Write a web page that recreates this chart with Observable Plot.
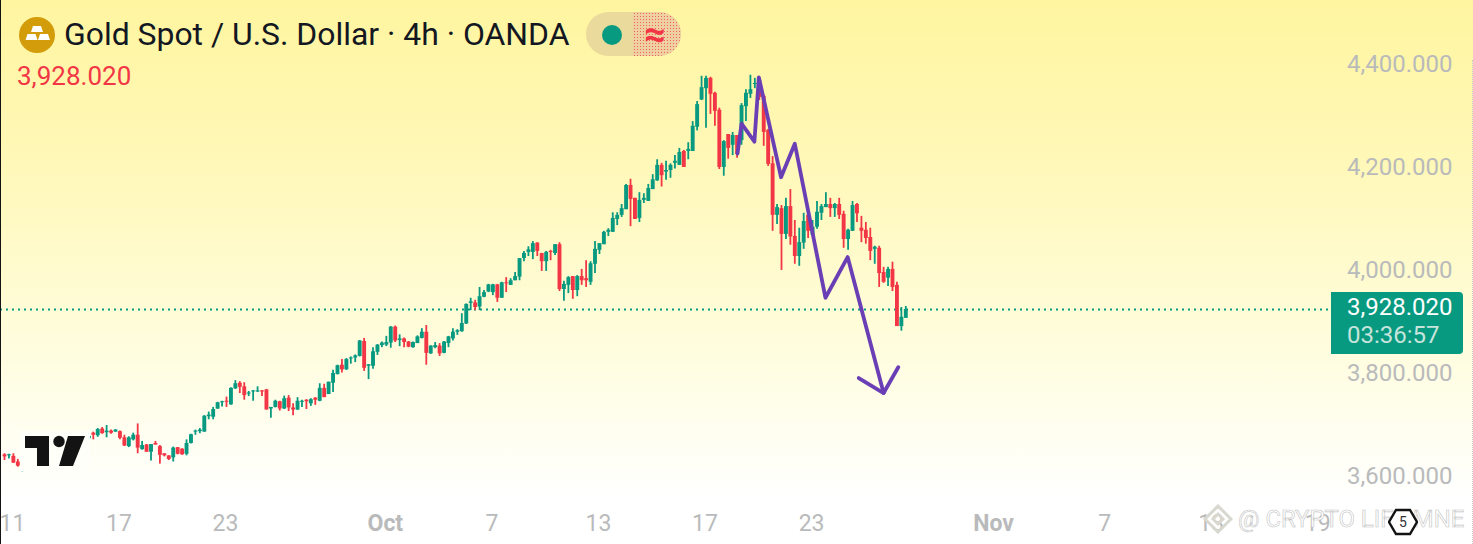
<!DOCTYPE html>
<html><head><meta charset="utf-8">
<script src="https://cdn.jsdelivr.net/npm/d3@7"></script>
<script src="https://cdn.jsdelivr.net/npm/@observablehq/plot@0.6"></script>
<style>
html,body{margin:0;padding:0;background:#fff;}
#wrap{position:relative;width:1473px;height:544px;overflow:hidden;font-family:Roboto,sans-serif;
 background:linear-gradient(180deg,#fff5a0 0%,#fff8b8 30%,#fffde0 66%,#ffffff 92%);}
#wrap svg.plot{position:absolute;left:0;top:0;background:transparent;}
.ab{position:absolute;white-space:nowrap;}
#edge{left:0;top:0;width:1.2px;height:544px;background:#131313;}
#edgeR{right:0;top:60px;height:484px;border-right:1px dotted #c8c8c8;}
#icon{left:19px;top:17px;width:36px;height:36px;}
#title{left:64px;top:16px;font-size:31.9px;line-height:36px;color:#131722;}
#pill{left:586px;top:12px;width:95px;height:44px;border-radius:22px;background:#eadb9c;}
#pill .r{position:absolute;left:47px;top:0;width:48px;height:44px;border-radius:0 22px 22px 0;background-color:#efd0a0;
 background-image:radial-gradient(#f2605e .8px,transparent 1px);background-size:3px 3px;}
#pill .dot{position:absolute;left:16px;top:12.5px;width:20px;height:20px;border-radius:50%;background:#089981;}
#pill .ap{position:absolute;left:54px;top:3px;width:30px;text-align:center;font-size:38px;line-height:38px;font-weight:700;color:#f23645;}
#sub{left:17px;top:60px;font-size:26px;line-height:32px;color:#f23645;}
#box{left:1331px;top:292px;width:132px;height:62px;background:#089981;border-radius:0 4px 4px 0;}
#box .a{position:absolute;left:16px;top:0;font-size:24px;line-height:30px;color:#fff;}
#box .b{position:absolute;left:16px;top:28px;font-size:24px;line-height:30px;color:#c6e4db;}
#logo{left:20px;top:431px;width:70px;height:40px;}
#diamond{left:1203px;top:504px;width:30px;height:30px;}
#wm{left:1238px;top:504px;font-size:23.9px;line-height:30px;color:#fff;-webkit-text-stroke:.6px #c4c4c4;}
#hex{left:1388px;top:507px;width:30px;height:30px;}
</style></head><body>
<div id="wrap"></div>
<script>
const up = "#089981", down = "#f23645";
const hidden = Array(12).fill(null); // bars 7..18 sit behind the logo

const open = [3646,3644,3643,3632,3629,3631,3637,...hidden,3677,3688,3683,3696,3689,3692,3690,3691,3679,3662,3675,3684,3656,3665,3651,3668,3662,3648,3644,3640,3660,3657,3647,3668,3690,3691,3690,3720,3719,3735,3747,3750,3743,
3774,3785,3778,3764,3768,3768,3770,3772,3735,3738,3749,3735,3756,3737,3733,3748,3752,3745,3756,3750,3775,3763,3785,3802,3820,3811,3832,3834,3837,3866,3818,3818,3845,3858,3859,3863,3894,3868,3871,3865,3854,3862,3872,3884,3842,3854,3857,3843,3862,3871,3884,3885,3900,
3940,3941,3933,3952,3962,3961,3976,3950,3980,3975,3984,3991,4027,4039,4039,4057,4037,4021,4041,4037,4054,3967,3975,3992,3965,3992,3988,3981,4016,4043,4054,4078,4078,4103,4111,4122,4169,4144,4105,4140,4138,4161,
4178,4208,4195,4198,4212,4208,4235,4235,4235,4282,4335,4357,4377,4348,4315,4204,4268,4247,4266,4256,4322,4346,4365,4373,4342,4276,4211,4111,4124,4074,4128,4070,4031,4057,4111,4072,4088,4115,4126,4132,4124,4132,4113,4064,4080,4132,4086,4082,4068,4045,4047,4000,3989,4006,3975,3895,3911];

const close = [3642,3646,3630,3624,3631,3634,3634,...hidden,3682,3684,3695,3687,3692,3688,3694,3678,3663,3679,3684,3659,3664,3651,3666,3665,3645,3644,3637,3659,3647,3646,3668,3685,3692,3694,3721,3723,3734,3747,3749,3748,3775,
3784,3777,3761,3766,3770,3770,3768,3733,3738,3750,3735,3755,3737,3733,3750,3750,3749,3753,3752,3775,3757,3787,3804,3819,3811,3831,3834,3838,3867,3814,3821,3846,3859,3863,3864,3894,3867,3871,3864,3855,3864,3875,3884,3843,3857,3858,3842,3865,3875,3884,3887,3901,3938,
3943,3932,3953,3961,3976,3976,3950,3980,3978,3984,3992,4027,4037,4044,4056,4041,4021,4039,4039,4054,3967,3977,3990,3965,3992,3984,3984,4017,4045,4056,4078,4082,4105,4111,4124,4169,4142,4103,4140,4144,4163,4180,
4208,4188,4198,4208,4216,4233,4204,4239,4284,4326,4359,4377,4346,4313,4204,4254,4241,4266,4229,4324,4348,4355,4367,4340,4272,4210,4111,4126,4074,4128,4069,4031,4058,4099,4080,4088,4117,4128,4132,4124,4132,4111,4064,4082,4130,4114,4080,4066,4041,4049,3998,3981,4006,3971,3895,3913,3928];

const high = [3648,3647,3648,3637,3643,3640,3637,...hidden,3683,3690,3697,3699,3703,3694,3695,3692,3684,3681,3688,3706,3672,3666,3666,3672,3664,3648,3644,3661,3660,3658,3675,3686,3694,3697,3722,3729,3738,3748,3750,3758,3776,
3790,3788,3786,3769,3771,3778,3771,3773,3738,3752,3750,3760,3761,3745,3757,3752,3753,3755,3757,3784,3783,3787,3810,3820,3831,3833,3836,3840,3868,3872,3821,3854,3860,3865,3876,3895,3896,3879,3873,3866,3865,3877,3891,3897,3858,3864,3862,3866,3876,3891,3889,3920,3939,
3950,3946,3971,3965,3977,3977,3977,3981,3990,3988,4000,4027,4041,4050,4060,4058,4037,4041,4043,4054,4058,3983,3992,3992,3994,4006,4023,4021,4060,4056,4080,4085,4116,4116,4132,4171,4181,4144,4155,4153,4171,4190,
4219,4212,4216,4211,4227,4241,4237,4252,4293,4332,4381,4381,4379,4350,4319,4256,4268,4272,4266,4328,4355,4383,4377,4375,4344,4278,4225,4132,4130,4144,4161,4101,4086,4115,4113,4101,4138,4132,4155,4144,4134,4144,4119,4084,4138,4134,4109,4097,4086,4051,4051,4010,4010,4020,3981,3932,3934];

const low = [3635,3638,3629,3622,3613,3618,3629,...hidden,3677,3675,3680,3686,3679,3686,3690,3675,3662,3660,3673,3648,3655,3651,3634,3665,3628,3642,3635,3632,3646,3645,3644,3667,3684,3687,3690,3714,3714,3734,3739,3738,3742,
3773,3765,3752,3759,3750,3767,3759,3733,3717,3737,3731,3734,3730,3722,3732,3738,3734,3740,3742,3749,3757,3763,3767,3801,3805,3810,3822,3825,3836,3808,3792,3812,3839,3854,3856,3853,3864,3856,3854,3854,3853,3862,3871,3820,3841,3852,3837,3842,3854,3867,3878,3884,3899,
3926,3926,3926,3951,3961,3955,3942,3950,3961,3975,3984,3984,4021,4031,4025,4031,4002,4002,4023,4033,3963,3944,3959,3948,3953,3975,3971,3975,3998,4035,4054,4070,4078,4091,4107,4122,4089,4103,4097,4134,4138,4161,
4177,4166,4179,4183,4201,4208,4204,4219,4235,4275,4334,4280,4307,4284,4200,4187,4220,4227,4222,4247,4293,4338,4357,4334,4245,4206,4080,4093,4004,4064,4053,4016,4012,4045,4066,4072,4084,4101,4126,4107,4107,4103,4047,4043,4080,4097,4058,4055,4023,4016,3971,3979,3973,3963,3895,3886,3911];

const lastPrice = 3928.02;
const priceTicks = [3600,3800,4000,4200,4400];
const dayTicks = [2,26,50,110,134,158,182,248,272,296];
const dayLabels = ["11","17","23","7","13","17","23","7","13","19"];
const monthTicks = [86,223];
const monthLabels = ["Oct","Nov"];
const drawX = [165.1,166,168.9,169.9,174.9,178,184.9,189.9,198,201.3];
const drawY = [4231,4289,4254,4379,4185,4250,3951,4030,3766,3816];
const headX = [192.4,198];
const headY = [3795,3766];

const bars = open.map((o,i)=>({i,o,c:close[i],h:high[i],l:low[i]})).filter(d=>d.o!=null);
const rising = bars.filter(d=>d.c>=d.o), falling = bars.filter(d=>d.c<d.o);
const grey = "#b9babb";
const fmt = d3.format(",.3f");
const candle = (data,color)=>[
  Plot.ruleX(data,{x:"i",y1:"l",y2:"h",stroke:color,strokeWidth:1.8}),
  Plot.ruleX(data,{x:"i",y1:"o",y2:"c",stroke:color,strokeWidth:3.9})
];
const lookup = (ts,ls)=>i=>ls[ts.indexOf(i)];

const chart = Plot.plot({
  width:1473,height:544,marginLeft:0,marginTop:0,marginRight:21,marginBottom:34,
  style:{background:"transparent",fontFamily:"Roboto,sans-serif"},
  x:{type:"linear",domain:[-0.9,330.86],range:[0,1473]},
  y:{type:"linear",domain:[3471.84,4528.16],range:[544,0]},
  marks:[
    Plot.ruleY([lastPrice],{x1:-0.9,x2:298.9,stroke:up,strokeWidth:2,strokeDasharray:"2 4"}),
    ...candle(rising,up),...candle(falling,down),
    Plot.line(drawX.map((x,k)=>({x,y:drawY[k]})),{x:"x",y:"y",stroke:"#6a3fb5",strokeWidth:3.8,strokeLinejoin:"round",strokeLinecap:"round"}),
    Plot.line(headX.map((x,k)=>({x,y:headY[k]})),{x:"x",y:"y",stroke:"#6a3fb5",strokeWidth:3.8,strokeLinecap:"round"}),
    Plot.axisY(priceTicks,{anchor:"right",tickSize:0,tickPadding:0,textAnchor:"end",dy:-2,tickFormat:fmt,fontSize:24,fill:grey,label:null}),
    Plot.axisX(dayTicks,{anchor:"bottom",tickSize:0,tickPadding:4,dx:-1,tickFormat:lookup(dayTicks,dayLabels),fontSize:23,fill:grey,label:null}),
    Plot.axisX(monthTicks,{anchor:"bottom",tickSize:0,tickPadding:4,dx:-1,tickFormat:lookup(monthTicks,monthLabels),fontSize:23,fontWeight:700,fill:grey,label:null})
  ]
});
const wrap = document.getElementById("wrap");
wrap.appendChild(chart);
wrap.insertAdjacentHTML("beforeend",`
<div class="ab" id="edge"></div><div class="ab" id="edgeR"></div>
<svg class="ab" id="icon" viewBox="0 0 36 36"><circle cx="18" cy="18" r="18" fill="#d39c0a"/>
 <path d="M14 9h8l2 6H12zM6.500 23l2-6h8l2 6zM19 23l2-6h8l2 6z" fill="#fff"/></svg>
<div class="ab" id="title">Gold Spot / U.S. Dollar · 4h · OANDA</div>
<div class="ab" id="pill"><div class="r"></div><div class="dot"></div><div class="ap">≈</div></div>
<div class="ab" id="sub">3,928.020</div>
<div class="ab" id="box"><div class="a">3,928.020</div><div class="b">03:36:57</div></div>
<svg class="ab" id="logo" viewBox="0 0 70 40"><rect width="70" height="40" fill="#fffffa"/>
 <path d="M5 5h24v30H17V17H5z" fill="#131313"/><circle cx="39" cy="10.500" r="5.700" fill="#131313"/><path d="M48 5h17L53 35H39z" fill="#131313"/></svg>
<svg class="ab" id="diamond" viewBox="0 0 30 30"><g fill="none" stroke="#d8d8d0" stroke-width="3"><path d="M15 2l13 13-13 13L2 15z"/><path d="M15 10l5 5-5 5-5-5z"/></g></svg>
<div class="ab" id="wm">@ CRYPTO LIFE MNE</div>
<svg class="ab" id="hex" viewBox="0 0 30 30"><path d="M8 3h14l7 12-7 12H8L1 15z" fill="#fff" stroke="#131313" stroke-width="2.400"/><text x="15" y="20" text-anchor="middle" font-size="14" fill="#333" font-family="Roboto">5</text></svg>
`);
</script>
</body></html>
